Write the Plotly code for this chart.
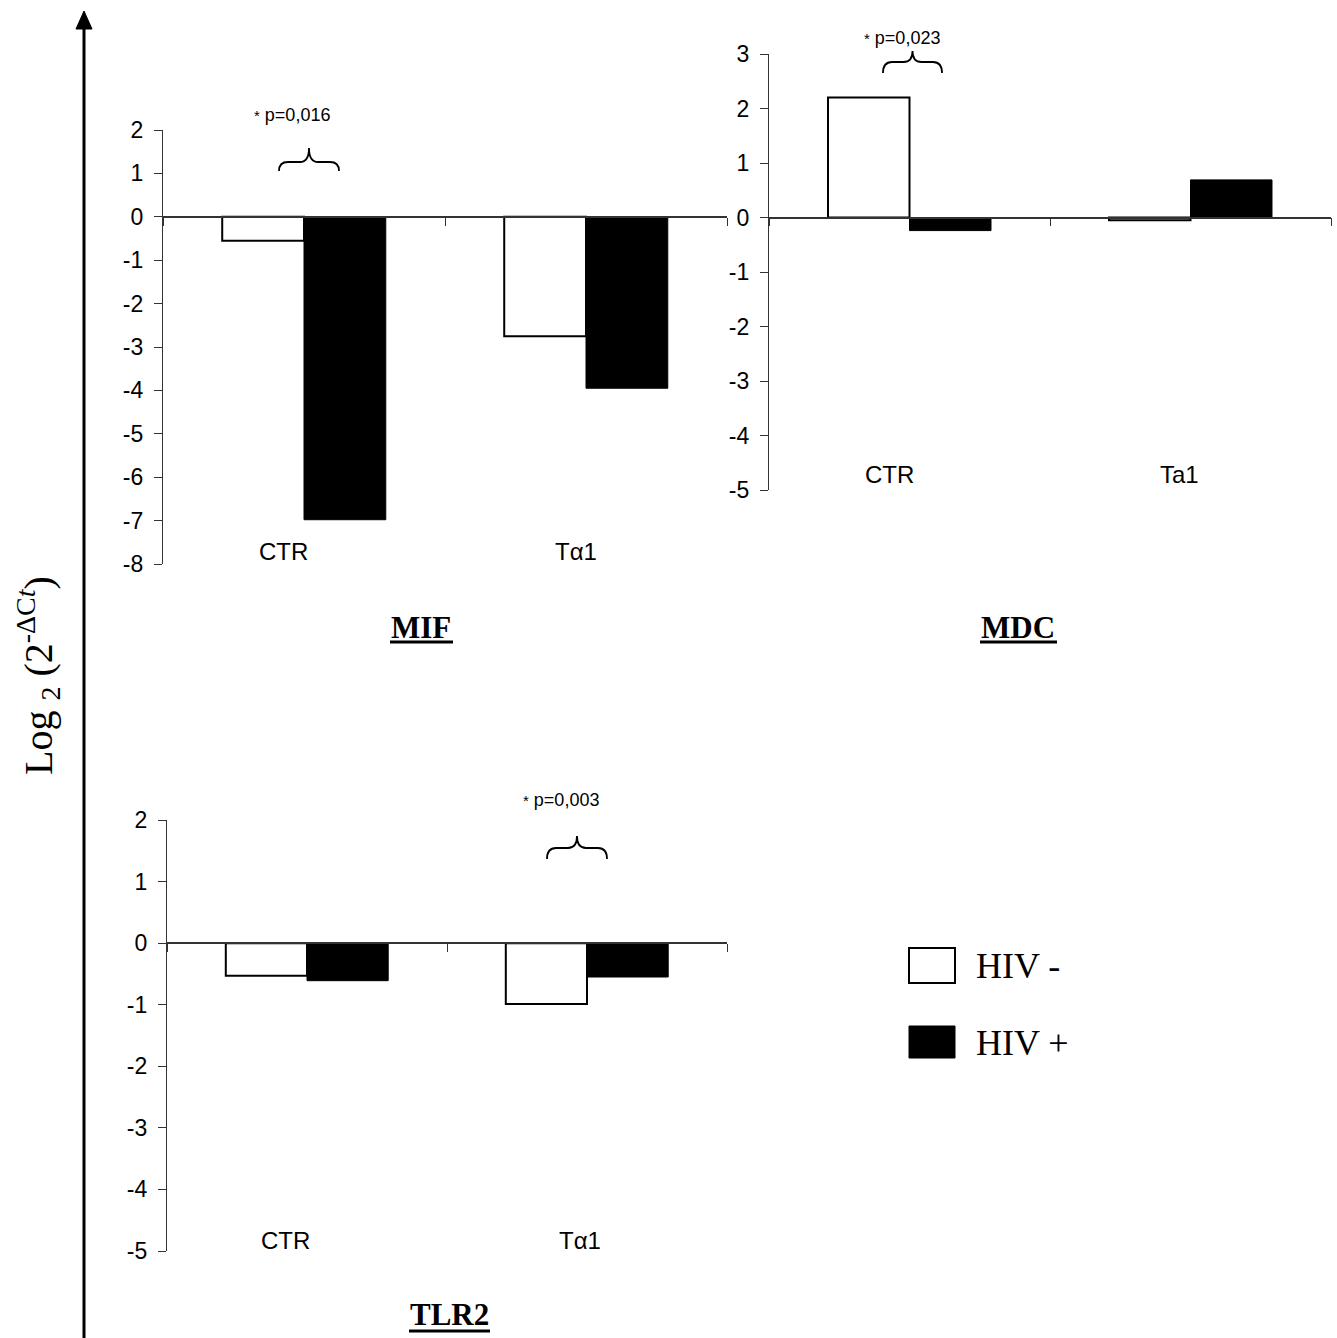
import plotly.graph_objects as go

W, H = 1337, 1338

# ---------------- data ----------------
mif_cats = ["CTR", "Tα1"]
mif_hiv_neg = [-0.55, -2.75]
mif_hiv_pos = [-6.98, -3.95]

mdc_cats = ["CTR", "Ta1"]
mdc_hiv_neg = [2.20, -0.05]
mdc_hiv_pos = [-0.24, 0.69]

tlr2_cats = ["CTR", "Tα1"]
tlr2_hiv_neg = [-0.53, -0.99]
tlr2_hiv_pos = [-0.61, -0.55]

mif_yticks = list(range(-8, 3))
mdc_yticks = list(range(-5, 4))
tlr2_yticks = list(range(-5, 3))

series_names = ["HIV -", "HIV +"]
p_texts = ["p=0,016", "p=0,023", "p=0,003"]
titles = ["MIF", "MDC", "TLR2"]


def X(px):
    return px / W


def Y(py):
    return 1 - py / H


SANS = "Liberation Sans, Arial, sans-serif"
SERIF = "Liberation Serif, Times New Roman, serif"
AXC = "#333333"

panels = [
    dict(cats=mif_cats, neg=mif_hiv_neg, pos=mif_hiv_pos, ticks=mif_yticks,
         xdom=(163, 727), ydom=(130, 564), xa="x", ya="y",
         labshift=[-21, -10], labup=13),
    dict(cats=mdc_cats, neg=mdc_hiv_neg, pos=mdc_hiv_pos, ticks=mdc_yticks,
         xdom=(769, 1331), ydom=(54, 490), xa="x2", ya="y2",
         labshift=[-20, -11], labup=15),
    dict(cats=tlr2_cats, neg=tlr2_hiv_neg, pos=tlr2_hiv_pos, ticks=tlr2_yticks,
         xdom=(167, 727), ydom=(820, 1251), xa="x3", ya="y3",
         labshift=[-22, -7], labup=11),
]

fig = go.Figure()
annotations = []
shapes = []

for i, p in enumerate(panels):
    fig.add_trace(go.Bar(x=p["cats"], y=p["neg"], name=series_names[0],
                         marker=dict(color="white", line=dict(color="black", width=2)),
                         xaxis=p["xa"], yaxis=p["ya"], showlegend=False))
    fig.add_trace(go.Bar(x=p["cats"], y=p["pos"], name=series_names[1],
                         marker=dict(color="black", line=dict(color="black", width=1)),
                         xaxis=p["xa"], yaxis=p["ya"], showlegend=False))
    ymin, ymax = min(p["ticks"]), max(p["ticks"])
    yd0, yd1 = Y(p["ydom"][1]), Y(p["ydom"][0])
    zero_pos = yd0 + (0 - ymin) / (ymax - ymin) * (yd1 - yd0)
    suffix = "" if i == 0 else str(i + 1)
    fig.update_layout(**{
        "xaxis" + suffix: dict(
            domain=[X(p["xdom"][0]), X(p["xdom"][1])],
            type="category", range=[-0.5, 1.5],
            anchor="free", position=zero_pos, automargin=False,
            showticklabels=False, tickson="boundaries",
            ticks="outside", ticklen=8, tickcolor=AXC, tickwidth=1.3,
            showline=True, linecolor=AXC, linewidth=1.5,
            showgrid=False, zeroline=False,
        ),
        "yaxis" + suffix: dict(
            domain=[yd0, yd1], range=[ymin, ymax], automargin=False,
            anchor=p["xa"], tickmode="array", tickvals=p["ticks"],
            ticktext=[str(v) for v in p["ticks"]],
            ticks="outside", ticklen=8, tickcolor=AXC, tickwidth=1.2,
            ticklabelstandoff=6,
            showline=True, linecolor=AXC, linewidth=1.2,
            showgrid=False, zeroline=False,
            tickfont=dict(family=SANS, size=23, color="black"),
        ),
    })
    # category labels near bottom of the plot
    for c, sh in zip(p["cats"], p["labshift"]):
        annotations.append(dict(
            x=c, y=0, xref=p["xa"], yref=p["ya"] + " domain",
            text=c, showarrow=False, xanchor="center", yanchor="middle",
            xshift=sh, yshift=p["labup"],
            font=dict(family=SANS, size=24, color="black")))

# titles
for t, (tx, ty) in zip(titles, [(421, 627), (1018, 627), (450, 1314)]):
    annotations.append(dict(x=X(tx), y=Y(ty), xref="paper", yref="paper",
                            text="<b>" + t + "</b>", showarrow=False,
                            xanchor="center", yanchor="middle",
                            font=dict(family=SERIF, size=31, color="black")))
for (ux0, ux1, uy) in [(390, 453, 642), (980, 1057, 642), (409, 490, 1331)]:
    shapes.append(dict(type="line", xref="paper", yref="paper",
                       x0=X(ux0), x1=X(ux1), y0=Y(uy), y1=Y(uy),
                       line=dict(color="black", width=3)))

# p-values
for t, (tx, ty) in zip(p_texts, [(292, 115), (902, 38), (561, 800)]):
    annotations.append(dict(x=X(tx), y=Y(ty), xref="paper", yref="paper",
                            text="<span style='font-size:15px'>*</span> " + t,
                            showarrow=False, xanchor="center", yanchor="middle",
                            font=dict(family=SANS, size=18, color="black")))


# braces
def brace(x0, x1, yp, yh, ye, q=9):
    xm = (x0 + x1) / 2
    pts = [
        ("M", [(x0, ye)]),
        ("Q", [(x0, yh), (x0 + q, yh)]),
        ("L", [(xm - q, yh)]),
        ("Q", [(xm, yh), (xm, yp)]),
        ("Q", [(xm, yh), (xm + q, yh)]),
        ("L", [(x1 - q, yh)]),
        ("Q", [(x1, yh), (x1, ye)]),
    ]
    s = ""
    for cmd, ps in pts:
        s += cmd + " " + " ".join(f"{X(a):.5f},{Y(b):.5f}" for a, b in ps) + " "
    return dict(type="path", xref="paper", yref="paper", path=s.strip(),
                line=dict(color="black", width=1.8))


shapes.append(brace(279, 339, 148, 162, 171))
shapes.append(brace(883, 942, 51, 62, 73))
shapes.append(brace(547, 607, 836, 848, 859))

# legend (manual)
shapes.append(dict(type="rect", xref="paper", yref="paper",
                   x0=X(909), x1=X(955), y0=Y(983), y1=Y(948),
                   fillcolor="white", line=dict(color="black", width=2)))
shapes.append(dict(type="rect", xref="paper", yref="paper",
                   x0=X(909), x1=X(955), y0=Y(1058), y1=Y(1026),
                   fillcolor="black", line=dict(color="black", width=1)))
for t, ty in zip(series_names, [966, 1043]):
    annotations.append(dict(x=X(974), y=Y(ty), xref="paper", yref="paper",
                            text=t, showarrow=False, xanchor="left", yanchor="middle",
                            font=dict(family=SERIF, size=36, color="black")))

# big y arrow
shapes.append(dict(type="line", xref="paper", yref="paper",
                   x0=X(84), x1=X(84), y0=Y(1340), y1=Y(26),
                   line=dict(color="black", width=3)))
shapes.append(dict(type="path", xref="paper", yref="paper",
                   path=f"M {X(76)},{Y(29)} L {X(84)},{Y(11)} L {X(92)},{Y(29)} Z",
                   fillcolor="black", line=dict(color="black", width=1)))

annotations.append(dict(x=X(38), y=Y(676), xref="paper", yref="paper",
                        text="Log <sub>2</sub> (2<sup>-ΔC<i>t</i></sup>)",
                        textangle=-90, showarrow=False,
                        xanchor="center", yanchor="middle",
                        font=dict(family=SERIF, size=40, color="black")))

fig.update_layout(
    template="none",
    width=W, height=H,
    margin=dict(l=0, r=0, t=0, b=0, pad=0, autoexpand=False),
    paper_bgcolor="white", plot_bgcolor="rgba(0,0,0,0)",
    barmode="group", bargap=0.42, bargroupgap=0,
    showlegend=False,
    annotations=annotations, shapes=shapes,
)

fig.write_html(
    "out.html",
    config={"displayModeBar": False},
    post_script="document.body.style.margin='0px';document.body.style.overflow='hidden';",
)
